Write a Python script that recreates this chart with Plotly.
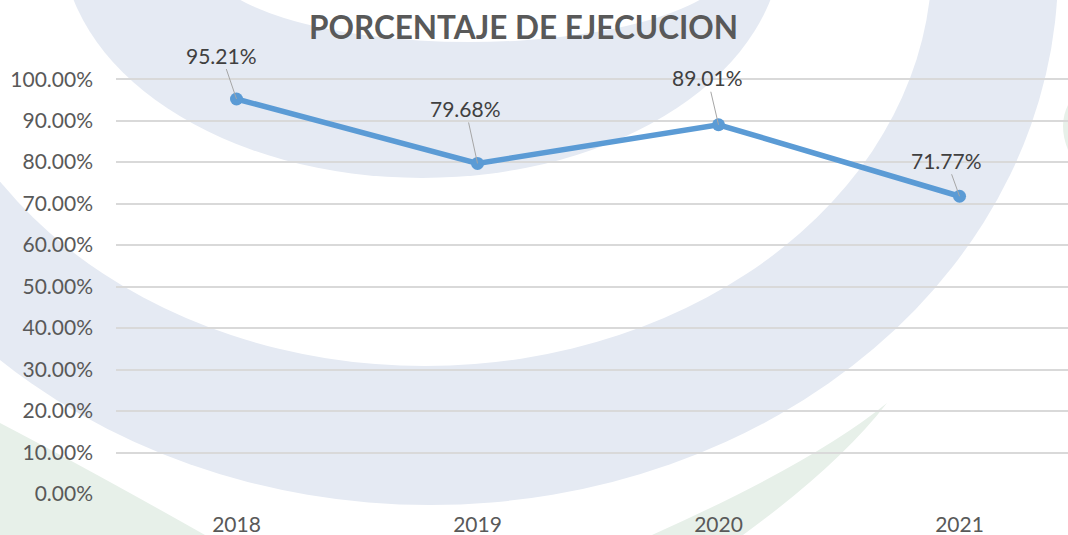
import plotly.graph_objects as go

# ---- data ----
years = ["2018", "2019", "2020", "2021"]
execution = [0.9521, 0.7968, 0.8901, 0.7177]
label_text = ["95.21%", "79.68%", "89.01%", "71.77%"]
label_dx = [-15, -12, -11, -13]
label_dy = [-44, -55, -47, -36]

W, H = 1068, 535
ML, MR, MT, MB = 116, 0, 75, 41
YMAX = 1.01
PW, PH = W - ML - MR, H - MT - MB


def px(x):
    return (x - ML) / PW


def py(y):
    return (H - MB - y) / PH


def ellipse(cx, cy, a, b, color):
    return dict(type="circle", xref="paper", yref="paper", layer="below",
                x0=px(cx - a), x1=px(cx + a), y0=py(cy + b), y1=py(cy - b),
                fillcolor=color, line=dict(width=0))


def poly(path_pts, color):
    s = ""
    for cmd, pts in path_pts:
        s += cmd + " " + " ".join(f"{px(x):.5f},{py(y):.5f}" for x, y in pts) + " "
    s += "Z"
    return dict(type="path", xref="paper", yref="paper", layer="below",
                path=s, fillcolor=color, line=dict(width=0))


BLUE_WM = "rgb(229,234,243)"
GREEN_WM = "rgb(231,240,233)"
WHITE = "white"

# decorative watermark (background logo)
shapes = [
    poly([("M", [(0, 423)]), ("Q", [(90, 470), (205, 535)]), ("L", [(0, 535)])], GREEN_WM),
    poly([("M", [(887, 403)]), ("Q", [(815, 462), (652, 535)]), ("L", [(743, 535)]),
          ("Q", [(839, 465), (887, 403)])], GREEN_WM),
    poly([("M", [(1068, 105)]), ("Q", [(1058, 125), (1068, 150)])], GREEN_WM),
    ellipse(430, -30, 628, 535, BLUE_WM),
    ellipse(425, -40, 507, 406, WHITE),
    ellipse(422, -60, 360, 238, BLUE_WM),
    ellipse(470, -40, 263, 82, WHITE),
]

xidx = list(range(len(years)))

fig = go.Figure()
fig.add_trace(go.Scatter(
    x=xidx, y=execution, mode="lines+markers",
    line=dict(color="#5B9BD5", width=5.5),
    marker=dict(color="#5B9BD5", size=13),
    hoverinfo="skip", cliponaxis=False,
))

annotations = []
for xv, yv, t, dx, dy in zip(xidx, execution, label_text, label_dx, label_dy):
    annotations.append(dict(
        x=xv, y=yv, xref="x", yref="y", text=t, showarrow=True,
        arrowhead=0, arrowwidth=1, arrowcolor="#A6A6A6",
        ax=dx, ay=dy, font=dict(family="Lato", size=21, color="#404040"),
    ))
annotations.append(dict(
    x=px(523), y=py(27), xref="paper", yref="paper", showarrow=False,
    text="<b>PORCENTAJE DE EJECUCION</b>", xanchor="center", yanchor="middle",
    font=dict(family="Lato", size=31.5, color="#595959"),
))

fig.update_layout(
    width=W, height=H,
    margin=dict(l=ML, r=MR, t=MT, b=MB),
    paper_bgcolor="white", plot_bgcolor="rgba(0,0,0,0)",
    showlegend=False,
    shapes=shapes,
    annotations=annotations,
    font=dict(family="Lato", size=21, color="#595959"),
    xaxis=dict(tickmode="array", tickvals=xidx, ticktext=years,
               range=[-0.5, 3.45], showgrid=False, zeroline=False, showline=False,
               ticks="", tickfont=dict(size=21, color="#595959"), ticklabelstandoff=16),
    yaxis=dict(range=[0, YMAX], tickmode="array",
               tickvals=[i / 10 for i in range(11)], tickformat=".2%",
               showgrid=True, gridcolor="#D9D9D9", gridwidth=1.5,
               zeroline=False, showline=False, ticks="",
               tickfont=dict(size=21, color="#595959"), ticklabelstandoff=22),
)

fig.write_html("out.html", config={"displayModeBar": False},
               post_script="document.body.style.margin='0px';document.body.style.overflow='hidden';")
